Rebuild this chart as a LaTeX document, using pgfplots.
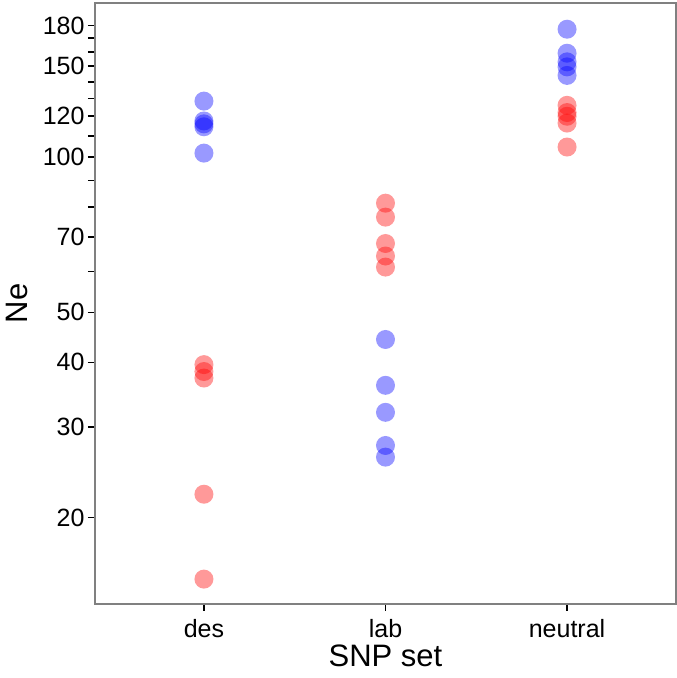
\documentclass[border=0pt]{standalone}
\usepackage{fontspec}
\setmainfont{Liberation Sans}
\usepackage{pgfplots}
\pgfplotsset{compat=1.18}
\definecolor{framegray}{RGB}{128,128,128}
\begin{document}
\begin{tikzpicture}
\useasboundingbox (-95pt,-74pt) rectangle (582pt,604pt);
\begin{axis}[
  scale only axis,
  width=581pt, height=601pt,
  at={(0pt,0pt)}, anchor=south west,
  ymode=log,
  ymin=13.6, ymax=199,
  xmin=-0.6, xmax=2.6,
  xtick={0,1,2},
  xticklabels={des,lab,neutral},
  ytick={20,30,40,50,70,100,120,150,180},
  yticklabels={20,30,40,50,70,100,120,150,180},
  minor ytick={60,80,90,110,130,140,160,170},
  tick pos=left,
  tick align=outside,
  major tick length=7pt,
  minor tick length=7pt,
  every tick/.style={black, line width=1.6pt},
  axis line style={framegray, line width=1.2pt},
  /pgf/number format/assume math mode=true,
  tick label style={font=\fontsize{25}{28}\selectfont, black},
  xticklabel style={inner sep=0pt, text depth=0pt, yshift=-8pt},
  label style={font=\fontsize{31}{34}\selectfont},
  xlabel={SNP set},
  ylabel={Ne},
  xlabel style={at={(axis description cs:0.5,0)}, anchor=base, inner sep=0pt, yshift=-63pt},
  ylabel style={yshift=8pt},
  clip=false,
]
\addplot[only marks, mark=*, mark size=9.5pt, color=blue,
  mark options={draw opacity=0, fill=blue, fill opacity=0.4}]
  coordinates {
  (0,128.4) (0,117.5) (0,116) (0,114.5) (0,101.8)
  (1,44.3) (1,36.1) (1,32.0) (1,27.6) (1,26.2)
  (2,177) (2,159) (2,153) (2,149.6) (2,144)
  };
\addplot[only marks, mark=*, mark size=9.5pt, color=red,
  mark options={draw opacity=0, fill=red, fill opacity=0.4}]
  coordinates {
  (0,39.6) (0,38.4) (0,37.3) (0,22.2) (0,15.2)
  (1,81.4) (1,76.5) (1,68.0) (1,64.3) (1,61.2)
  (2,126) (2,122) (2,120) (2,116.4) (2,104.6)
  };
\end{axis}
\end{tikzpicture}
\end{document}
